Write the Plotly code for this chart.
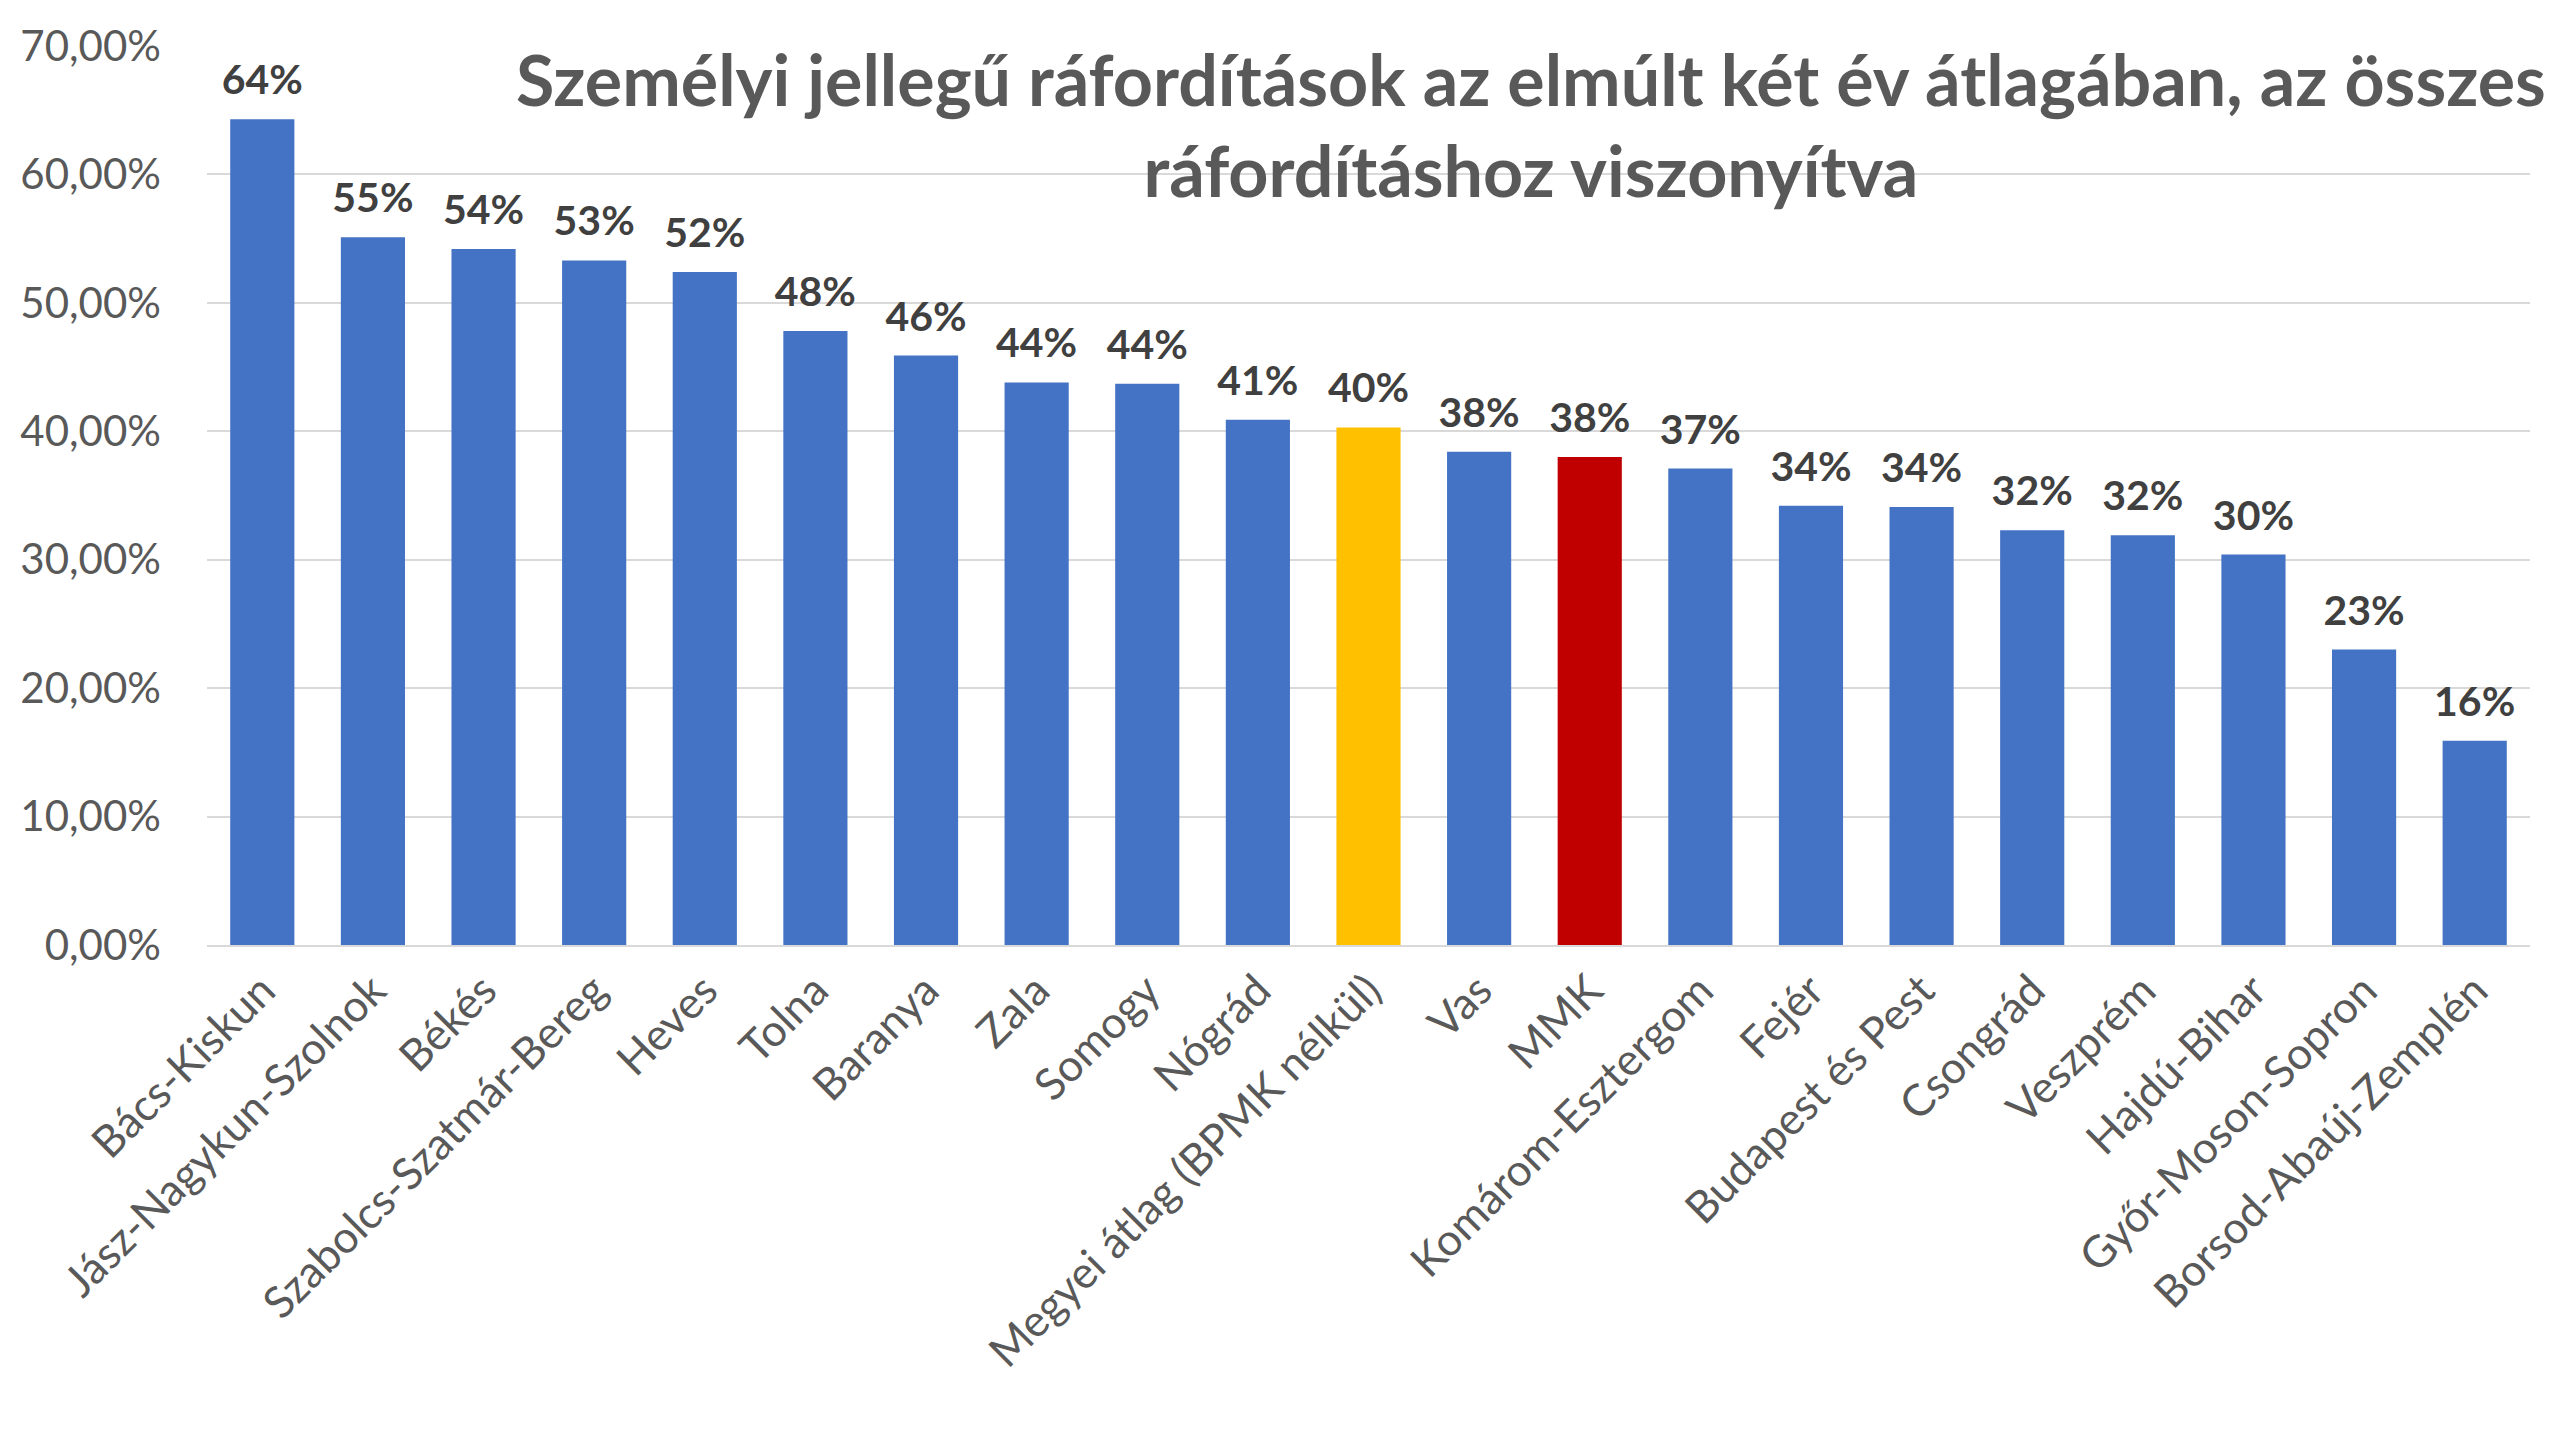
import plotly.graph_objects as go

categories = ["Bács-Kiskun", "Jász-Nagykun-Szolnok", "Békés", "Szabolcs-Szatmár-Bereg", "Heves",
              "Tolna", "Baranya", "Zala", "Somogy", "Nógrád", "Megyei átlag (BPMK nélkül)", "Vas",
              "MMK", "Komárom-Esztergom", "Fejér", "Budapest és Pest", "Csongrád", "Veszprém",
              "Hajdú-Bihar", "Győr-Moson-Sopron", "Borsod-Abaúj-Zemplén"]
values = [0.643, 0.551, 0.542, 0.533, 0.524, 0.478, 0.459, 0.438, 0.437, 0.409, 0.403, 0.384,
          0.380, 0.371, 0.342, 0.341, 0.323, 0.319, 0.304, 0.230, 0.159]
highlight = {"Megyei átlag (BPMK nélkül)": "#FFC000", "MMK": "#C00000"}
base_color = "#4472C4"
colors = [highlight.get(c, base_color) for c in categories]

title_lines = ["Személyi jellegű ráfordítások az elmúlt két év átlagában, az összes",
               "ráfordításhoz viszonyítva"]

fig = go.Figure()
fig.add_trace(go.Bar(
    x=categories, y=values, marker=dict(color=colors, line=dict(width=0)),
    hoverinfo="x+y",
))
# data labels (invisible markers give the label its offset above the bar)
fig.add_trace(go.Scatter(
    x=categories, y=values, mode="markers+text",
    marker=dict(size=22, color="rgba(0,0,0,0)"),
    texttemplate="<b>%{y:.0%}</b>", textposition="top center", cliponaxis=False,
    textfont=dict(family="Lato", size=41, color="#404040"),
    hoverinfo="skip",
))

fig.update_layout(
    width=2554, height=1440,
    margin=dict(l=199, r=32, t=36, b=503),
    paper_bgcolor="white", plot_bgcolor="white",
    separators=", ",
    bargap=0.42,
    showlegend=False,
    font=dict(family="Lato", color="#595959"),
    annotations=[dict(
        text="<br>".join("<b>" + t + "</b>" for t in title_lines),
        xref="paper", yref="paper", x=0.570, y=0.9125,
        xanchor="center", yanchor="middle", showarrow=False,
        font=dict(family="Lato", size=70, color="#595959"),
    )],
)
fig.update_yaxes(range=[0, 0.7], dtick=0.1, tickformat=".2%",
                 gridcolor="#D9D9D9", gridwidth=2, zeroline=False,
                 showline=False, tickfont=dict(family="Lato", size=42, color="#595959"),
                 ticklabelstandoff=45)
fig.update_xaxes(range=[-0.5, len(categories) - 0.5],
                 tickangle=-45, tickfont=dict(family="Lato", size=44, color="#595959"),
                 showline=True, linecolor="#D9D9D9", linewidth=2, ticks="")

fig.write_html("out.html")
